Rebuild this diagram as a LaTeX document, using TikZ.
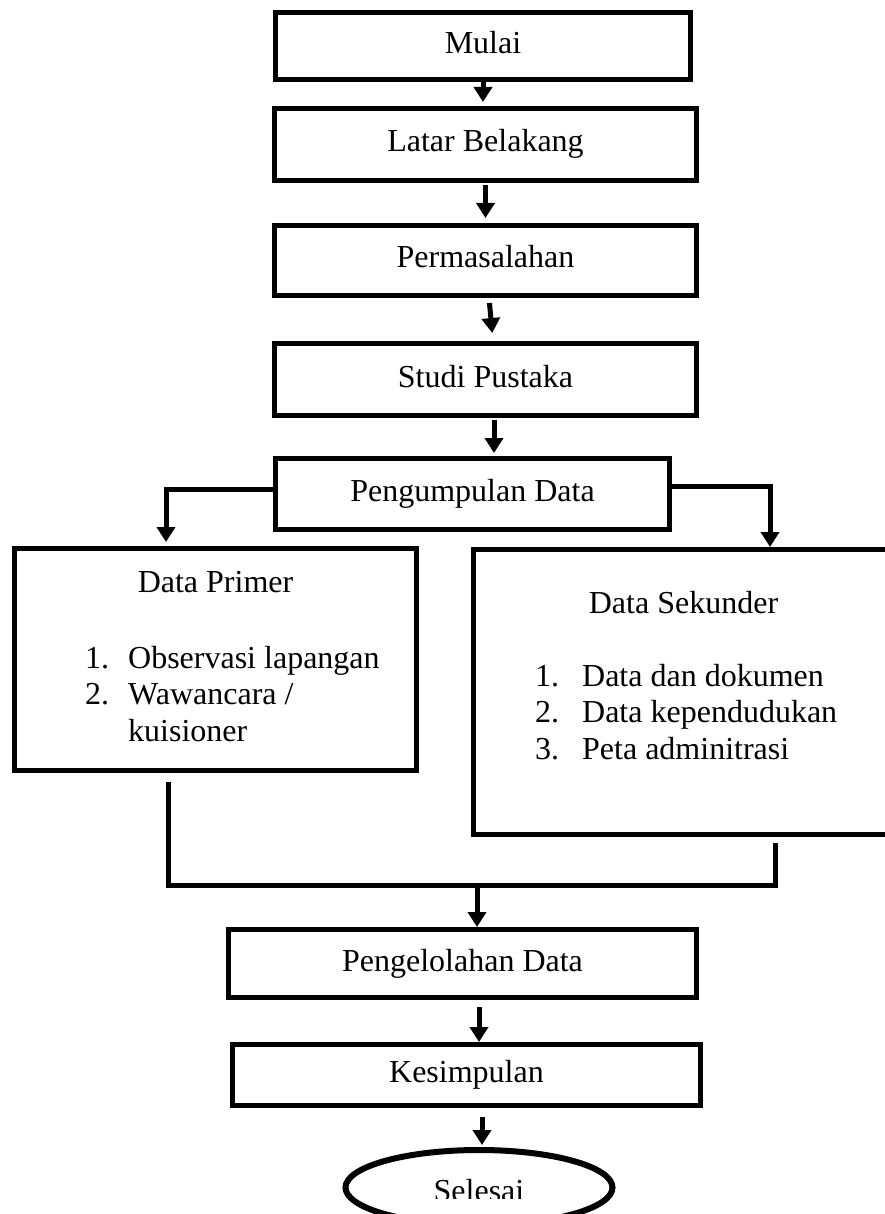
\documentclass[tikz,border=0pt]{standalone}
\usepackage{fontspec}
\setmainfont{Liberation Serif}
\usepackage{array}
\usetikzlibrary{positioning,calc,arrows.meta,shapes.geometric}

\tikzset{
  tulisan/.style={font=\fontsize{32}{36.5}\selectfont},
  kotak/.style={draw,line width=5pt,inner sep=0pt,tulisan,text height=22pt,text depth=7pt},
  lonjong/.style={draw,ellipse,line width=6pt,inner sep=0pt},
  garis/.style={line width=5pt},
  panah/.style={line width=5pt,-{Triangle[width=18pt,length=15pt]}}
}

\begin{document}
\begin{tikzpicture}
  \useasboundingbox (0pt,0pt) rectangle (884pt,-1214pt);
  \node[kotak,minimum width=415pt,minimum height=67pt] at (483pt,-46pt) (mulai) {Mulai};
  \node[kotak,minimum width=422pt,minimum height=72pt,below=24pt of mulai,xshift=2.5pt] (latar) {Latar Belakang};
  \node[kotak,minimum width=422pt,minimum height=70pt,below=40pt of latar] (masalah) {Permasalahan};
  \node[kotak,minimum width=422pt,minimum height=72pt,below=43pt of masalah] (studi) {Studi Pustaka};
  \node[kotak,minimum width=394pt,minimum height=71pt,below=38pt of studi,xshift=-13pt] (kumpul) {Pengumpulan Data};
  \node[kotak,minimum width=402pt,minimum height=222pt,anchor=north west] at (12pt,-546pt) (primer) {};
  \node[kotak,minimum width=420pt,minimum height=285pt,anchor=north west] at (471pt,-547pt) (sekunder) {};
  \node[tulisan,anchor=base] at ([yshift=-46pt]primer.north) (primerjudul) {Data Primer};
  \node[tulisan,anchor=base west,inner sep=0pt] at ([xshift=73pt,yshift=-122pt]primer.north west) (primerisi)
    {\begin{tabular}[t]{@{}p{43pt}@{}l@{}}1. & Observasi lapangan\\ 2. & Wawancara /\\ & kuisioner\end{tabular}};
  \node[tulisan,anchor=base] at ([yshift=-66pt]sekunder.north) (sekunderjudul) {Data Sekunder};
  \node[tulisan,anchor=base west,inner sep=0pt] at ([xshift=64pt,yshift=-139pt]sekunder.north west) (sekunderisi)
    {\begin{tabular}[t]{@{}p{47pt}@{}l@{}}1. & Data dan dokumen\\ 2. & Data kependudukan\\ 3. & Peta adminitrasi\end{tabular}};
  \coordinate (gabung) at (477pt,-885.5pt);
  \node[kotak,minimum width=468pt,minimum height=68pt,below=41.5pt of gabung,xshift=-14.5pt] (olah) {Pengelolahan Data};
  \node[kotak,minimum width=468pt,minimum height=61pt,below=42pt of olah,xshift=4pt] (simpul) {Kesimpulan};
  \node[lonjong,minimum width=267pt,minimum height=75pt,below=39pt of simpul,xshift=12.5pt] (selesai) {};
  \begin{scope}
    \clip (0pt,0pt) rectangle (884pt,-1198pt);
    \node[tulisan,text height=22pt,text depth=7pt,yshift=-6pt] at (selesai) (selesaiteks) {Selesai};
  \end{scope}
  \draw[panah,shorten >=4pt] (mulai.south) -- (mulai.south |- latar.north);
  \draw[panah,shorten <=2pt,shorten >=5pt] (latar.south) -- (latar.south |- masalah.north);
  \draw[panah,shorten <=5pt,shorten >=8pt] ([xshift=3.5pt]masalah.south) -- ([xshift=7.5pt]studi.north);
  \draw[panah,shorten <=2pt,shorten >=3pt] ([xshift=8.5pt]studi.south) -- ([xshift=8.5pt]studi.south |- kumpul.north);
  \draw[panah,shorten >=4pt] ([yshift=5pt]kumpul.west) -| ([xshift=-49.5pt]primer.north);
  \draw[panah] ([yshift=8pt]kumpul.east) -| ([xshift=86.5pt]sekunder.north);
  \draw[garis] ([xshift=-47.5pt,yshift=-9pt]primer.south) |- (gabung) -| ([xshift=91.5pt,yshift=-6pt]sekunder.south);
  \draw[panah] (gabung) -- (gabung |- olah.north);
  \draw[panah,shorten <=7pt] ([xshift=16.5pt]olah.south) -- ([xshift=16.5pt]olah.south |- simpul.north);
  \draw[panah,shorten <=9pt,shorten >=2pt] ([xshift=15.5pt]simpul.south) -- ([xshift=15.5pt]simpul.south |- selesai.north);
\end{tikzpicture}
\end{document}
